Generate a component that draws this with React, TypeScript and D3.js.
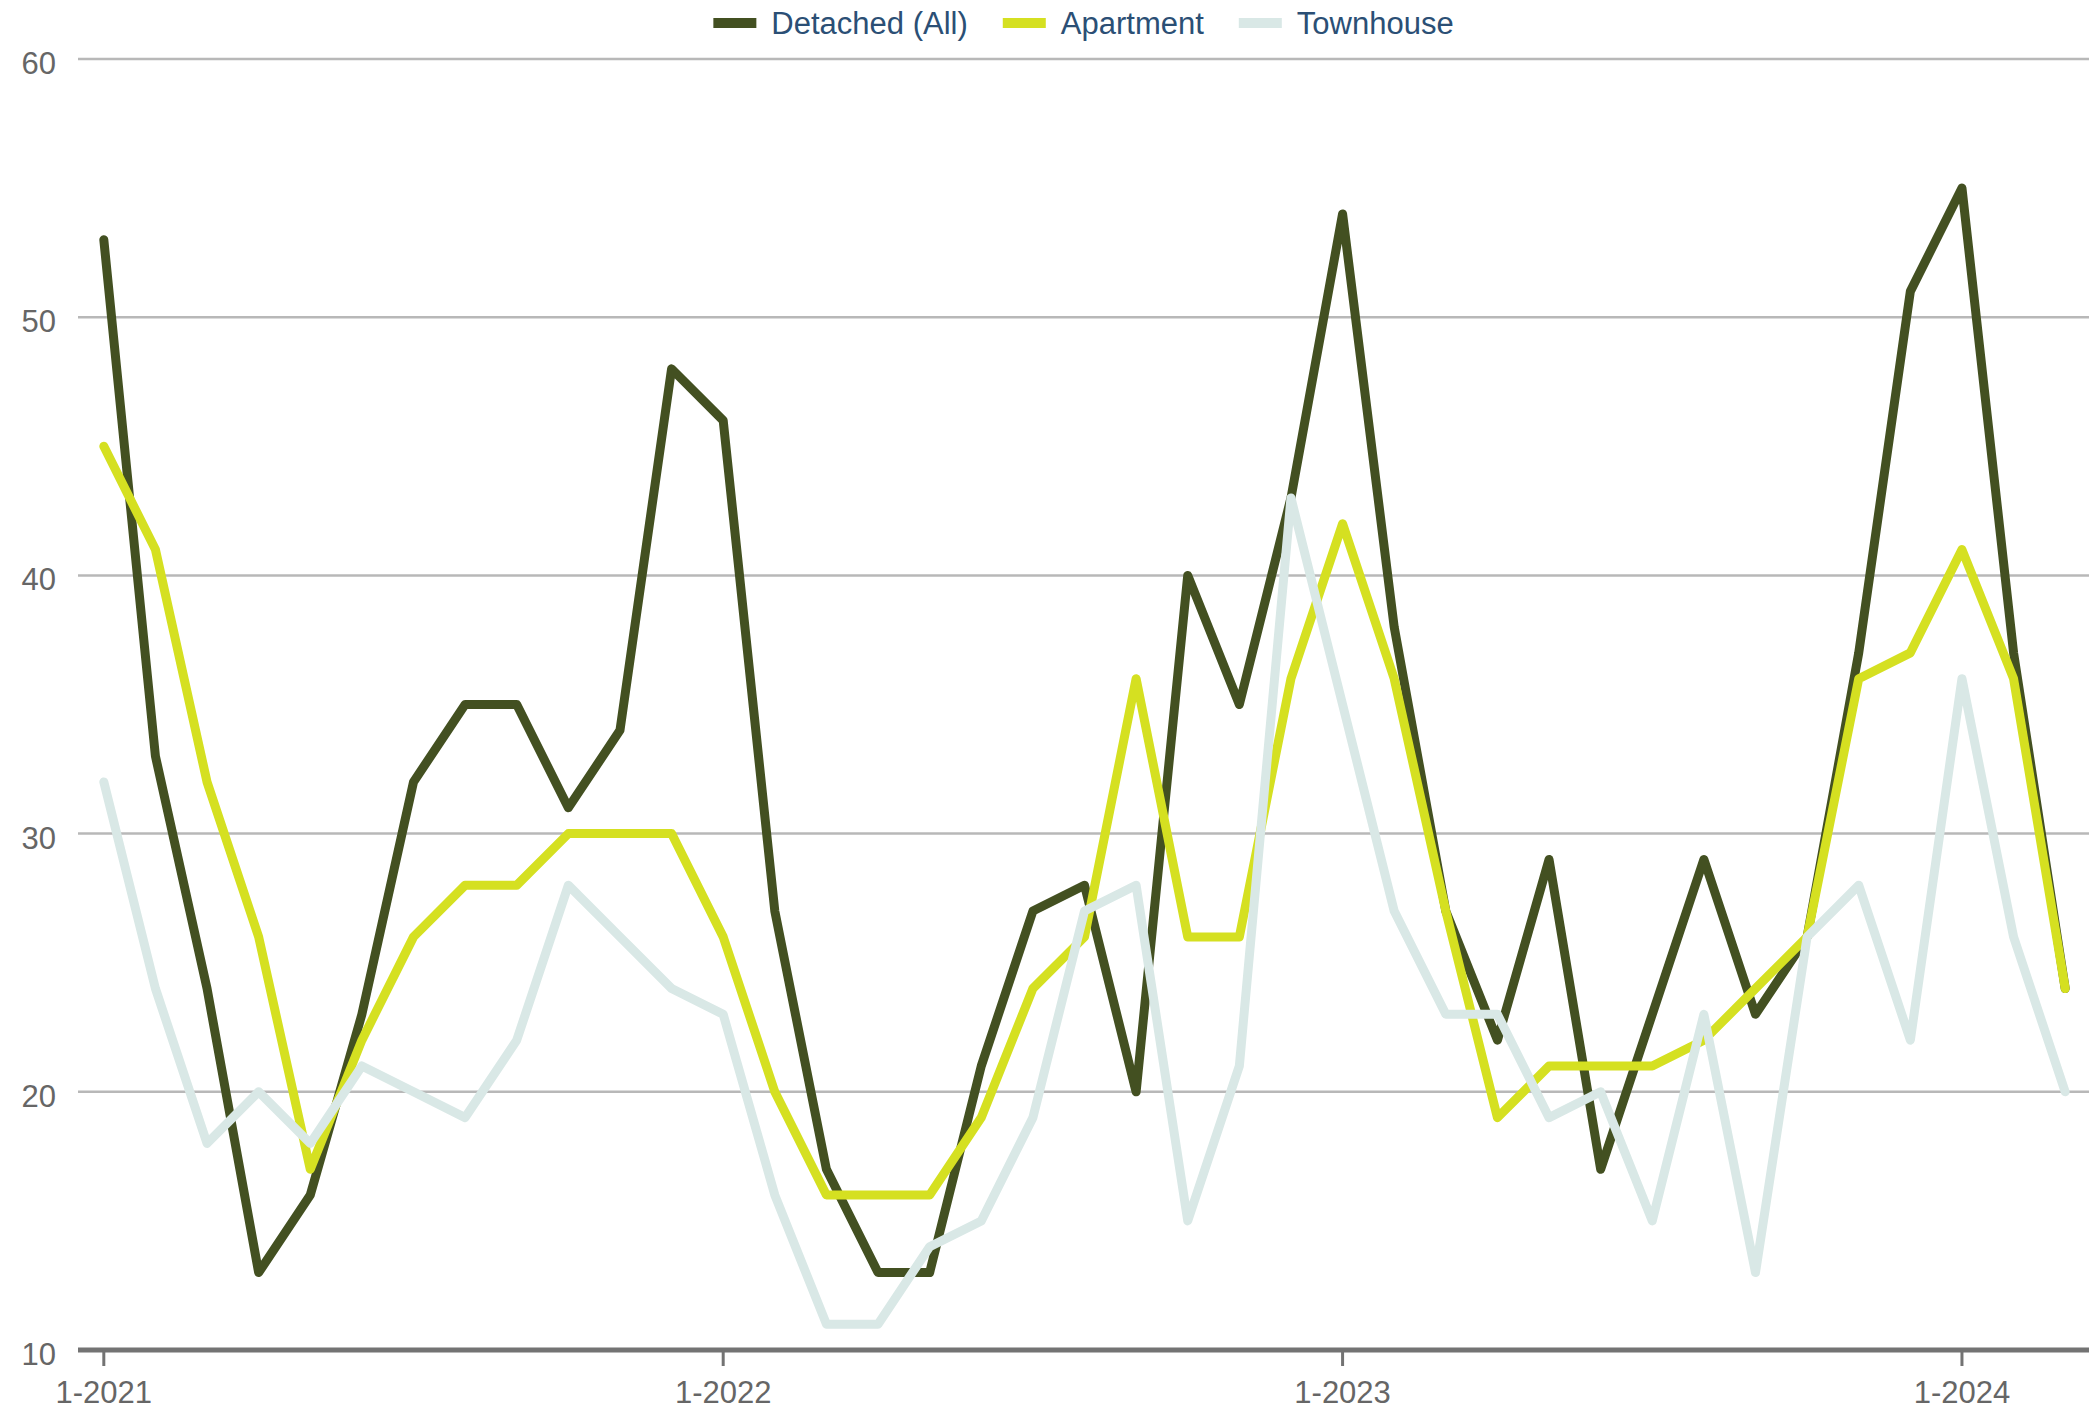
import React, { useEffect, useRef } from 'react'
import * as d3 from 'd3'

// monthly values, 1-2021 .. 3-2024
const detached = [53, 33, 24, 13, 16, 23, 32, 35, 35, 31, 34, 48, 46, 27, 17, 13, 13, 21, 27, 28, 20, 40, 35, 43, 54, 38, 27, 22, 29, 17, 23, 29, 23, 26, 37, 51, 55, 37, 24]
const apartment = [45, 41, 32, 26, 17, 22, 26, 28, 28, 30, 30, 30, 26, 20, 16, 16, 16, 19, 24, 26, 36, 26, 26, 36, 42, 36, 27, 19, 21, 21, 21, 22, 24, 26, 36, 37, 41, 36, 24]
const townhouse = [32, 24, 18, 20, 18, 21, 20, 19, 22, 28, 26, 24, 23, 16, 11, 11, 14, 15, 19, 27, 28, 15, 21, 43, 35, 27, 23, 23, 19, 20, 15, 23, 13, 26, 28, 22, 36, 26, 20]

const seriesNames = ['Detached (All)', 'Apartment', 'Townhouse']
const seriesColors = ['#435021', '#d5e021', '#d9e8e6']

const tickMonths = [0, 12, 24, 36]
const tickLabels = ['1-2021', '1-2022', '1-2023', '1-2024']
const yTicks = [10, 20, 30, 40, 50, 60]

const W = 2089
const H = 1411
const margin = { top: 59, right: 0, bottom: 61, left: 78 }
const font = "'Liberation Sans', Arial, Helvetica, sans-serif"

export default function App() {
  const ref = useRef<SVGSVGElement>(null)

  useEffect(() => {
    const svg = d3.select(ref.current)
    svg.selectAll('*').remove()

    // plot runs a touch past the right edge of the picture
    const x = d3.scaleLinear()
      .domain([-0.5, detached.length - 0.5])
      .range([margin.left, W + 2])
    const y = d3.scaleLinear()
      .domain([10, 60])
      .range([H - margin.bottom, margin.top])

    // grid lines
    svg.append('g')
      .selectAll('line')
      .data(yTicks.filter(d => d !== 10))
      .enter()
      .append('line')
      .attr('x1', margin.left)
      .attr('x2', W - margin.right)
      .attr('y1', d => y(d))
      .attr('y2', d => y(d))
      .attr('stroke', '#b8b8b8')
      .attr('stroke-width', 2.5)

    // y labels
    svg.append('g')
      .selectAll('text')
      .data(yTicks)
      .enter()
      .append('text')
      .attr('x', 56)
      .attr('y', d => y(d) + 15)
      .attr('text-anchor', 'end')
      .attr('fill', '#666666')
      .style('font-size', '31px')
      .text(d => d)

    // x axis
    svg.append('line')
      .attr('x1', margin.left)
      .attr('x2', W - margin.right)
      .attr('y1', y(10))
      .attr('y2', y(10))
      .attr('stroke', '#737373')
      .attr('stroke-width', 5)

    const xt = svg.append('g')
      .selectAll('g')
      .data(tickMonths)
      .enter()
      .append('g')
      .attr('transform', d => `translate(${x(d)}, ${y(10)})`)
    xt.append('line')
      .attr('y1', 0)
      .attr('y2', 16)
      .attr('stroke', '#737373')
      .attr('stroke-width', 3)
    xt.append('text')
      .attr('y', 53)
      .attr('text-anchor', 'middle')
      .attr('fill', '#666666')
      .style('font-size', '31px')
      .text((d, i) => tickLabels[i])

    // series lines
    const line = d3.line<number>()
      .x((d, i) => x(i))
      .y(d => y(d))
    svg.append('g')
      .selectAll('path')
      .data([detached, apartment, townhouse])
      .enter()
      .append('path')
      .attr('d', d => line(d))
      .attr('fill', 'none')
      .attr('stroke', (d, i) => seriesColors[i])
      .attr('stroke-width', 9)
      .attr('stroke-linejoin', 'round')
      .attr('stroke-linecap', 'round')

    // legend, centred over the plot
    const legend = svg.append('g')
    const items = legend.selectAll('g')
      .data(seriesNames)
      .enter()
      .append('g')
    items.append('rect')
      .attr('width', 43)
      .attr('height', 10)
      .attr('y', 18)
      .attr('fill', (d, i) => seriesColors[i])
    items.append('text')
      .attr('x', 58)
      .attr('y', 34)
      .attr('fill', '#2b4f75')
      .style('font-size', '31px')
      .text(d => d)

    let offset = 0
    items.each(function () {
      const g = d3.select(this)
      g.attr('transform', `translate(${offset}, 0)`)
      const tw = (g.select('text').node() as SVGTextElement).getComputedTextLength()
      offset += 58 + tw + 35
    })
    const total = offset - 35
    const cx = (margin.left + W - margin.right) / 2
    legend.attr('transform', `translate(${cx - total / 2}, 0)`)
  }, [])

  return (
    <svg
      ref={ref}
      width={W}
      height={H}
      style={{ position: 'absolute', left: 0, top: 0, fontFamily: font, background: '#fff' }}
    />
  )
}
